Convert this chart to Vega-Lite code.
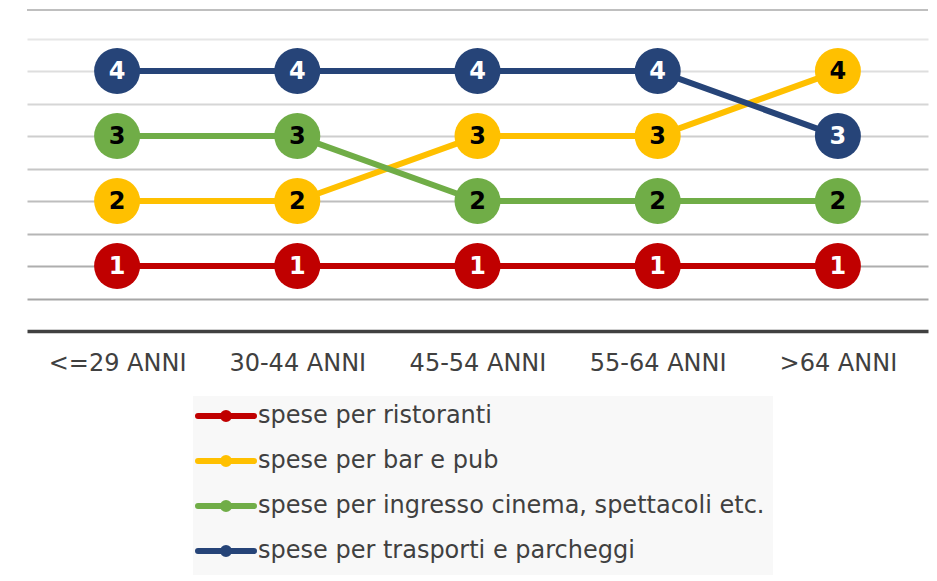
{
  "$schema": "https://vega.github.io/schema/vega-lite/v6.json",
  "width": 901,
  "height": 321,
  "autosize": {"type": "none"},
  "padding": {"left": 27, "top": 10, "right": 9, "bottom": 250},
  "background": "white",
  "config": {"font": "DejaVu Sans", "view": {"stroke": null}},
  "datasets": {
    "ranks": [
      {"eta": "<=29 ANNI", "serie": "spese per ristoranti", "rank": 1},
      {"eta": "30-44 ANNI", "serie": "spese per ristoranti", "rank": 1},
      {"eta": "45-54 ANNI", "serie": "spese per ristoranti", "rank": 1},
      {"eta": "55-64 ANNI", "serie": "spese per ristoranti", "rank": 1},
      {"eta": ">64 ANNI", "serie": "spese per ristoranti", "rank": 1},
      {"eta": "<=29 ANNI", "serie": "spese per bar e pub", "rank": 2},
      {"eta": "30-44 ANNI", "serie": "spese per bar e pub", "rank": 2},
      {"eta": "45-54 ANNI", "serie": "spese per bar e pub", "rank": 3},
      {"eta": "55-64 ANNI", "serie": "spese per bar e pub", "rank": 3},
      {"eta": ">64 ANNI", "serie": "spese per bar e pub", "rank": 4},
      {"eta": "<=29 ANNI", "serie": "spese per ingresso cinema, spettacoli etc.", "rank": 3},
      {"eta": "30-44 ANNI", "serie": "spese per ingresso cinema, spettacoli etc.", "rank": 3},
      {"eta": "45-54 ANNI", "serie": "spese per ingresso cinema, spettacoli etc.", "rank": 2},
      {"eta": "55-64 ANNI", "serie": "spese per ingresso cinema, spettacoli etc.", "rank": 2},
      {"eta": ">64 ANNI", "serie": "spese per ingresso cinema, spettacoli etc.", "rank": 2},
      {"eta": "<=29 ANNI", "serie": "spese per trasporti e parcheggi", "rank": 4},
      {"eta": "30-44 ANNI", "serie": "spese per trasporti e parcheggi", "rank": 4},
      {"eta": "45-54 ANNI", "serie": "spese per trasporti e parcheggi", "rank": 4},
      {"eta": "55-64 ANNI", "serie": "spese per trasporti e parcheggi", "rank": 4},
      {"eta": ">64 ANNI", "serie": "spese per trasporti e parcheggi", "rank": 3}
    ],
    "top": [{"livello": 4.94}]
  },
  "layer": [
    {
      "data": {"name": "top"},
      "mark": {"type": "rule", "color": "#bfbfbf", "strokeWidth": 2},
      "encoding": {
        "y": {
          "field": "livello", "type": "quantitative",
          "scale": {"domain": [0, 4.94], "nice": false, "zero": false},
          "axis": {
            "title": null, "labels": false, "ticks": false, "domain": false, "grid": true, "gridWidth": 2,
            "values": [0.5, 1, 1.5, 2, 2.5, 3, 3.5, 4, 4.5],
            "gridColor": {
              "condition": [
                {"test": "datum.value <= 0.5", "value": "#a6a6a6"},
                {"test": "datum.value <= 1", "value": "#aeaeae"},
                {"test": "datum.value <= 1.5", "value": "#b6b6b6"},
                {"test": "datum.value <= 2", "value": "#bebebe"},
                {"test": "datum.value <= 2.5", "value": "#c6c6c6"},
                {"test": "datum.value <= 3", "value": "#cecece"},
                {"test": "datum.value <= 3.5", "value": "#d6d6d6"},
                {"test": "datum.value <= 4", "value": "#dedede"}
              ],
              "value": "#e6e6e6"
            }
          }
        }
      }
    },
    {
      "data": {"name": "ranks"},
      "mark": {"type": "line", "strokeWidth": 6, "strokeJoin": "round"},
      "encoding": {
        "x": {
          "field": "eta", "type": "nominal",
          "sort": ["<=29 ANNI", "30-44 ANNI", "45-54 ANNI", "55-64 ANNI", ">64 ANNI"],
          "scale": {"paddingInner": 0, "paddingOuter": 0},
          "axis": {"title": null, "labelAngle": 0, "labelFontSize": 24, "labelColor": "#404040", "labelPadding": 20, "ticks": false, "domainColor": "#404040", "domainWidth": 3.5, "grid": false}
        },
        "y": {
          "field": "rank", "type": "quantitative",
          "scale": {"domain": [0, 4.94], "nice": false, "zero": false}
        },
        "stroke": {
          "field": "serie", "type": "nominal",
          "scale": {
            "domain": ["spese per ristoranti", "spese per bar e pub", "spese per ingresso cinema, spettacoli etc.", "spese per trasporti e parcheggi"],
            "range": ["#C00000", "#FFC000", "#70AD47", "#264478"]
          },
          "legend": {
            "title": null, "orient": "none", "legendX": 166, "legendY": 386, "direction": "vertical",
            "fillColor": "#f8f8f8", "padding": 8, "labelFontSize": 24, "labelColor": "#404040", "labelLimit": 1000,
            "symbolType": "M-4,0L4,0M0.43,0A0.43,0.43,0,1,1,-0.43,0A0.43,0.43,0,1,1,0.43,0",
            "symbolSize": 196, "symbolStrokeWidth": 6, "symbolOffset": 13, "labelOffset": 20, "rowPadding": 13,
            "encode": {"symbols": {"update": {"strokeCap": {"value": "round"}}}}
          }
        }
      }
    },
    {
      "data": {"name": "ranks"},
      "mark": {"type": "point", "filled": true, "opacity": 1, "size": 2116},
      "encoding": {
        "x": {"field": "eta", "type": "nominal", "sort": ["<=29 ANNI", "30-44 ANNI", "45-54 ANNI", "55-64 ANNI", ">64 ANNI"]},
        "y": {"field": "rank", "type": "quantitative"},
        "fill": {
          "field": "serie", "type": "nominal",
          "scale": {
            "domain": ["spese per ristoranti", "spese per bar e pub", "spese per ingresso cinema, spettacoli etc.", "spese per trasporti e parcheggi"],
            "range": ["#C00000", "#FFC000", "#70AD47", "#264478"]
          },
          "legend": null
        }
      }
    },
    {
      "data": {"name": "ranks"},
      "mark": {"type": "text", "fontSize": 24, "fontWeight": "bold", "align": "center", "baseline": "middle", "dy": 1},
      "encoding": {
        "x": {"field": "eta", "type": "nominal", "sort": ["<=29 ANNI", "30-44 ANNI", "45-54 ANNI", "55-64 ANNI", ">64 ANNI"]},
        "y": {"field": "rank", "type": "quantitative"},
        "text": {"field": "rank", "type": "quantitative"},
        "color": {
          "field": "serie", "type": "nominal",
          "scale": {
            "domain": ["spese per ristoranti", "spese per bar e pub", "spese per ingresso cinema, spettacoli etc.", "spese per trasporti e parcheggi"],
            "range": ["#FFFFFF", "#000000", "#000000", "#FFFFFF"]
          },
          "legend": null
        }
      }
    }
  ]
}
